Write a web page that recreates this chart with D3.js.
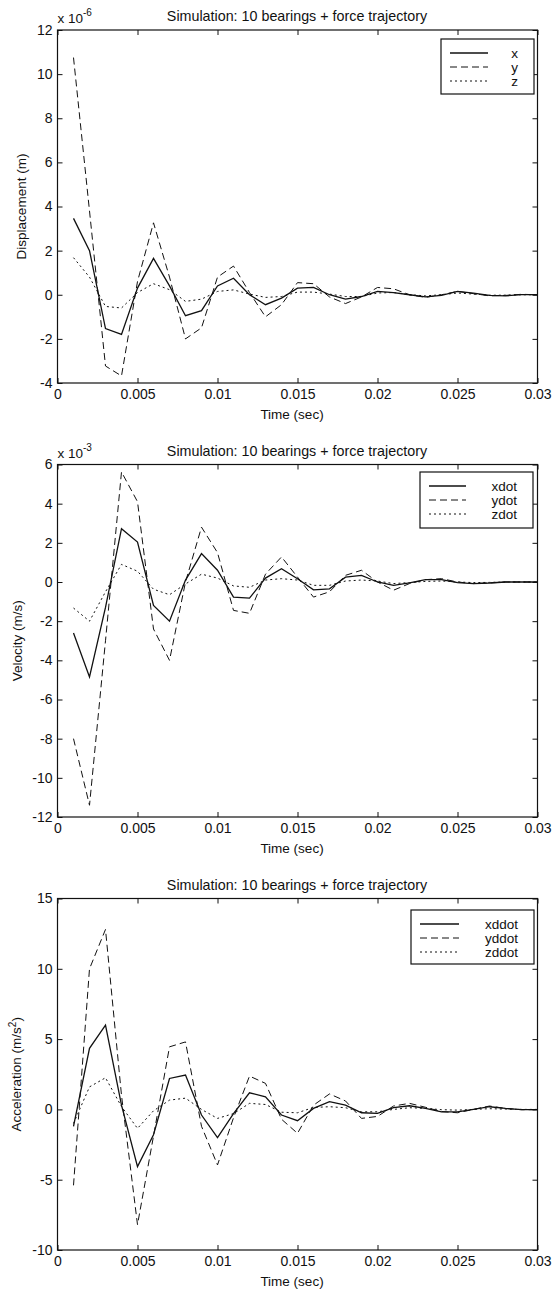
<!DOCTYPE html>
<html>
<head>
<meta charset="utf-8">
<script src="https://cdn.jsdelivr.net/npm/d3@7"></script>
<style>
  body { margin: 0; background: #fff; }
  svg { display: block; }
  text { font-family: "Liberation Sans", Arial, sans-serif; fill: #111; }
</style>
</head>
<body>
<svg width="552" height="1290"></svg>
<script>
// time samples (sec)
const time = [0.001, 0.002, 0.003, 0.004, 0.005, 0.006, 0.007, 0.008, 0.009, 0.010,
              0.011, 0.012, 0.013, 0.014, 0.015, 0.016, 0.017, 0.018, 0.019, 0.020,
              0.021, 0.022, 0.023, 0.024, 0.025, 0.026, 0.027, 0.028, 0.029, 0.030];
const xTicks = [0, 0.005, 0.01, 0.015, 0.02, 0.025, 0.03];
const xTickLabels = ["0", "0.005", "0.01", "0.015", "0.02", "0.025", "0.03"];

// displacement, x 10^-6 m
const dispX = [3.46, 2.0, -1.53, -1.8, 0.3, 1.65, 0.4, -0.95, -0.72, 0.4, 0.75, 0.0, -0.45, -0.15, 0.3,
               0.33, 0.0, -0.2, -0.08, 0.15, 0.1, 0.0, -0.1, -0.03, 0.15, 0.07, -0.03, -0.05, 0.01, 0.01];
const dispY = [10.75, 3.8, -3.23, -3.68, 0.6, 3.26, 0.8, -2.0, -1.5, 0.8, 1.3, 0.1, -1.0, -0.45, 0.55,
               0.5, -0.1, -0.4, -0.1, 0.33, 0.27, 0.0, -0.12, 0.0, 0.15, 0.05, -0.05, -0.03, 0.02, 0.0];
const dispZ = [1.68, 0.8, -0.53, -0.6, 0.1, 0.5, 0.23, -0.3, -0.2, 0.15, 0.22, 0.03, -0.12, -0.08, 0.12,
               0.12, 0.03, -0.08, -0.08, 0.08, 0.1, 0.0, -0.05, 0.0, 0.08, 0.03, -0.02, -0.02, 0.0, 0.0];
const dispTicks = [-4, -2, 0, 2, 4, 6, 8, 10, 12];

// velocity, x 10^-3 m/s
const velX = [-2.6, -4.85, -1.3, 2.72, 2.04, -1.2, -2.0, 0.1, 1.45, 0.6, -0.77, -0.82, 0.2, 0.68, 0.17,
              -0.4, -0.35, 0.25, 0.34, 0.0, -0.17, -0.05, 0.12, 0.12, -0.03, -0.08, -0.05, 0.0, 0.0, 0.0];
const velY = [-8.0, -11.4, -3.0, 5.62, 4.1, -2.4, -4.0, 0.0, 2.8, 1.5, -1.45, -1.6, 0.4, 1.28, 0.25,
              -0.77, -0.5, 0.34, 0.6, 0.0, -0.42, -0.08, 0.12, 0.17, 0.0, -0.08, -0.05, 0.0, 0.0, 0.0];
const velZ = [-1.33, -2.0, -0.5, 0.9, 0.55, -0.37, -0.65, -0.1, 0.4, 0.2, -0.2, -0.27, 0.1, 0.17, 0.1,
              -0.17, -0.17, 0.05, 0.1, 0.05, -0.08, -0.03, 0.03, 0.05, 0.0, -0.03, -0.02, 0.0, 0.0, 0.0];
const velTicks = [-12, -10, -8, -6, -4, -2, 0, 2, 4, 6];

// acceleration, m/s^2
const accX = [-1.2, 4.34, 6.0, 0.3, -4.07, -1.8, 2.2, 2.44, -0.4, -2.0, -0.3, 1.18, 0.9, -0.4, -0.8,
              0.07, 0.55, 0.3, -0.24, -0.28, 0.12, 0.26, 0.07, -0.17, -0.17, 0.0, 0.19, 0.07, -0.02, -0.02];
const accY = [-5.4, 10.0, 12.8, 1.0, -8.2, -1.9, 4.45, 4.8, -1.2, -3.95, -0.6, 2.37, 1.85, -0.7, -1.7,
              0.3, 1.1, 0.6, -0.64, -0.5, 0.24, 0.43, 0.15, -0.15, -0.24, 0.0, 0.24, 0.07, -0.02, -0.02];
const accZ = [-1.0, 1.6, 2.25, 0.2, -1.35, -0.1, 0.66, 0.8, 0.0, -0.64, -0.3, 0.43, 0.35, -0.2, -0.24,
              0.14, 0.19, 0.12, -0.17, -0.17, 0.0, 0.12, 0.07, -0.02, -0.05, 0.0, 0.05, 0.02, 0.0, 0.0];
const accTicks = [-10, -5, 0, 5, 10, 15];

const title = "Simulation: 10 bearings + force trajectory";
const dashStyles = [null, "7,4", "2,3"];

const svg = d3.select("svg");

function panel({top, bottom, yDomain, yTicks, series, names, ylabel, exponent, legendBox}) {
  const left = 57.5, right = 537.5;
  const x = d3.scaleLinear().domain([0, 0.03]).range([left, right]);
  const y = d3.scaleLinear().domain(yDomain).range([bottom, top]);
  const g = svg.append("g");

  // inward ticks on all four sides, MATLAB style
  const fmt = (d, i) => xTickLabels[i];
  g.append("g").attr("transform", `translate(0,${bottom})`)
    .call(d3.axisBottom(x).tickValues(xTicks).tickFormat(fmt).tickSize(-5).tickPadding(6));
  g.append("g").attr("transform", `translate(0,${top})`)
    .call(d3.axisTop(x).tickValues(xTicks).tickFormat("").tickSize(-5));
  const ly = g.append("g").attr("transform", `translate(${left},0)`)
    .call(d3.axisLeft(y).tickValues(yTicks).tickFormat(d3.format("d")).tickSize(-5).tickPadding(5));
  g.append("g").attr("transform", `translate(${right},0)`)
    .call(d3.axisRight(y).tickValues(yTicks).tickFormat("").tickSize(-5));
  g.selectAll(".domain").remove();
  g.selectAll(".tick line").attr("stroke", "#111");
  g.selectAll(".tick text").attr("font-size", 14).attr("font-family", "Liberation Sans, Arial, sans-serif").attr("fill", "#111");
  ly.selectAll(".tick text").text(d => d < 0 ? "-" + Math.abs(d) : d);

  g.append("rect")
    .attr("x", left).attr("y", top)
    .attr("width", right - left).attr("height", bottom - top)
    .attr("fill", "none").attr("stroke", "#111").attr("stroke-width", 1.2);

  // title + labels
  g.append("text").attr("x", 297).attr("y", top - 9)
    .attr("text-anchor", "middle").attr("font-size", 14.3).text(title);
  g.append("text").attr("x", 292).attr("y", bottom + 36)
    .attr("text-anchor", "middle").attr("font-size", 13.5).text("Time (sec)");
  const yl = g.append("text")
    .attr("transform", `translate(${ylabel.x},${(top + bottom) / 2}) rotate(-90)`)
    .attr("text-anchor", "middle").attr("font-size", 13.5);
  yl.append("tspan").text(ylabel.text);
  if (ylabel.sup) {
    yl.append("tspan").attr("dy", -5).attr("font-size", 10).text(ylabel.sup);
    yl.append("tspan").attr("dy", 5).text(")");
  }
  if (exponent) {
    const ex = g.append("text").attr("x", left).attr("y", top - 7).attr("font-size", 13.5);
    ex.append("tspan").text("x 10");
    ex.append("tspan").attr("dy", -7).attr("font-size", 10).text(exponent);
  }

  // series
  const line = d3.line().x((d, i) => x(time[i])).y(d => y(d));
  series.forEach((s, i) => {
    g.append("path").datum(s)
      .attr("d", line)
      .attr("fill", "none")
      .attr("stroke", "#111")
      .attr("stroke-width", i === 0 ? 1.3 : 1)
      .attr("stroke-dasharray", dashStyles[i]);
  });

  // legend
  const lb = legendBox;
  g.append("rect").attr("x", lb.x).attr("y", lb.y).attr("width", lb.w).attr("height", lb.h)
    .attr("fill", "#fff").attr("stroke", "#111").attr("stroke-width", 1.2);
  names.forEach((n, i) => {
    const cy = lb.y + 14 + i * 14;
    g.append("line")
      .attr("x1", lb.x + 9).attr("x2", lb.x + 9 + lb.line)
      .attr("y1", cy).attr("y2", cy)
      .attr("stroke", "#111").attr("stroke-width", i === 0 ? 1.3 : 1)
      .attr("stroke-dasharray", dashStyles[i]);
    g.append("text").attr("x", lb.x + lb.w - 16).attr("y", cy + 4.5)
      .attr("text-anchor", "end").attr("font-size", 13.5).text(n);
  });
}

panel({
  top: 30, bottom: 383, yDomain: [-4, 12], yTicks: dispTicks,
  series: [dispX, dispY, dispZ], names: ["x", "y", "z"],
  ylabel: {x: 26, text: "Displacement (m)"}, exponent: "-6",
  legendBox: {x: 441, y: 39, w: 93, h: 55, line: 38}
});
panel({
  top: 464.5, bottom: 817, yDomain: [-12, 6], yTicks: velTicks,
  series: [velX, velY, velZ], names: ["xdot", "ydot", "zdot"],
  ylabel: {x: 22, text: "Velocity (m/s)"}, exponent: "-3",
  legendBox: {x: 420, y: 472, w: 113, h: 56, line: 37}
});
panel({
  top: 898.5, bottom: 1250, yDomain: [-10, 15], yTicks: accTicks,
  series: [accX, accY, accZ], names: ["xddot", "yddot", "zddot"],
  ylabel: {x: 21, text: "Acceleration (m/s", sup: "2"}, exponent: null,
  legendBox: {x: 411, y: 910, w: 123, h: 54, line: 39}
});
</script>
</body>
</html>
